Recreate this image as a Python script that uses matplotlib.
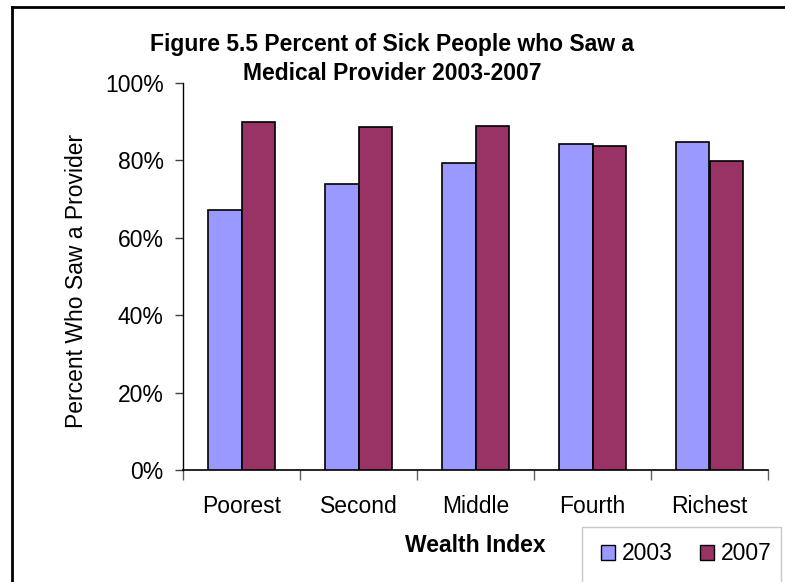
import numpy as np
import matplotlib
matplotlib.use("Agg")
import matplotlib.pyplot as plt
from matplotlib.lines import Line2D
from matplotlib.patches import Patch, Rectangle

plt.rcParams['font.family'] = ['Liberation Sans', 'DejaVu Sans']

categories = ["Poorest", "Second", "Middle", "Fourth", "Richest"]
years = ["2003", "2007"]
pct_2003 = [67.2, 74.0, 79.4, 84.2, 84.7]
pct_2007 = [89.9, 88.6, 88.9, 83.8, 79.8]
y_ticks = [0, 20, 40, 60, 80, 100]

color_2003 = "#9999FF"
color_2007 = "#993366"
fs = 16.5

W, H = 785, 582
fig = plt.figure(figsize=(W / 100, H / 100), dpi=100)
ax = fig.add_axes([183 / W, 1 - 470 / H, (768 - 183) / W, (470 - 83) / H])

# excel-style clustered columns: gap width 150% -> each bar is 1/3.5 of a category
bw = 1 / 3.5
x = np.arange(len(categories)) + 0.5
ax.bar(x - bw / 2, pct_2003, width=bw, color=color_2003, edgecolor="black", linewidth=1.2, zorder=3)
ax.bar(x + bw / 2, pct_2007, width=bw, color=color_2007, edgecolor="black", linewidth=1.2, zorder=3)

ax.set_xlim(0, len(categories))
ax.set_ylim(0, 100)

ax.set_yticks(y_ticks)
ax.set_yticklabels([f"{t}%" for t in y_ticks])
ax.tick_params(axis="y", length=6, width=1, color="#404040", pad=8, labelsize=fs)

ax.set_xticks(x)
ax.set_xticklabels(categories)
ax.set_xticks(np.arange(len(categories) + 1), minor=True)
ax.tick_params(axis="x", which="major", length=0, pad=18, labelsize=fs)
ax.tick_params(axis="x", which="minor", length=7, width=1, color="#606060")

for side in ("top", "right"):
    ax.spines[side].set_visible(False)
ax.spines["left"].set_linewidth(1)
ax.spines["bottom"].set_linewidth(1.2)

fig.text(77 / W, 1 - 281 / H, "Percent Who Saw a Provider", rotation=90,
         ha="center", va="center", fontsize=fs)
fig.text(475 / W, 1 - 546 / H, "Wealth Index", ha="center", va="center",
         fontsize=fs, fontweight="bold")

fig.text(392 / W, 1 - 45 / H, "Figure 5.5 Percent of Sick People who Saw a",
         ha="center", va="center", fontsize=fs, fontweight="bold")
fig.text(392 / W, 1 - 73 / H, "Medical Provider 2003-2007",
         ha="center", va="center", fontsize=fs, fontweight="bold")

# outer chart border (only left and top edges fall inside the image)
fig.add_artist(Line2D([12 / W, 12 / W], [0, 1 - 7 / H], color="black", lw=2))
fig.add_artist(Line2D([12 / W, 1], [1 - 7 / H, 1 - 7 / H], color="black", lw=2))

# legend box
fig.add_artist(Rectangle((582 / W, -0.05), (781 - 582) / W, 0.05 + (582 - 527) / H,
                         transform=fig.transFigure, facecolor="white",
                         edgecolor="#c8c8c8", lw=1))
handles = [Patch(facecolor=color_2003, edgecolor="black", lw=1),
           Patch(facecolor=color_2007, edgecolor="black", lw=1)]
fig.legend(handles, years, loc="center", bbox_to_anchor=(686 / W, 1 - 554 / H),
           ncol=2, frameon=False, fontsize=fs, handlelength=0.6, handleheight=0.6,
           handletextpad=0.3, columnspacing=1.2, borderpad=0)

fig.savefig("out.png", dpi=100)
